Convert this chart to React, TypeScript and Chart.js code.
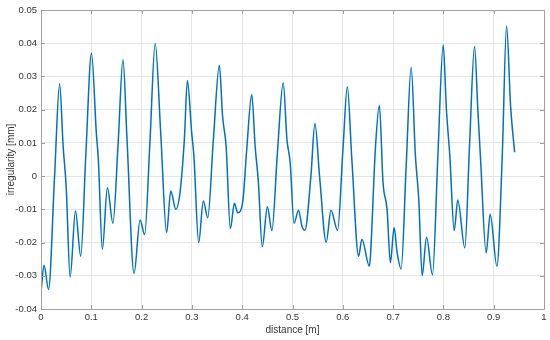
import React, { useEffect, useRef } from "react";
import { Chart, registerables } from "chart.js";

Chart.register(...registerables);

// distance [m] and irregularity [mm]
const distance = [
  0.0, 0.006, 0.015, 0.027, 0.037, 0.044, 0.05, 0.058, 0.0685, 0.079,
  0.089, 0.1004, 0.11, 0.114, 0.122, 0.132, 0.143, 0.1534, 0.163, 0.171,
  0.185, 0.197, 0.206, 0.2165, 0.227, 0.238, 0.2497, 0.258, 0.268, 0.2763,
  0.285, 0.291, 0.2996, 0.304, 0.3135, 0.3227, 0.3315, 0.3427, 0.3546, 0.361,
  0.368, 0.3765, 0.3845, 0.391, 0.401, 0.409, 0.419, 0.4257, 0.432, 0.44,
  0.45, 0.459, 0.47, 0.4815, 0.489, 0.4954, 0.503, 0.512, 0.5187, 0.5246,
  0.5366, 0.5446, 0.5538, 0.567, 0.5765, 0.5896, 0.6003, 0.609, 0.618, 0.6315,
  0.638, 0.6527, 0.655, 0.6647, 0.6727, 0.68, 0.688, 0.6946, 0.702, 0.708,
  0.716, 0.726, 0.7359, 0.7444, 0.751, 0.7578, 0.7665, 0.7783, 0.789, 0.7996,
  0.806, 0.8128, 0.8215, 0.8286, 0.8426, 0.8519, 0.8619, 0.8685, 0.8739, 0.885,
  0.893, 0.9064, 0.917, 0.9256, 0.9336, 0.9416,
];
const irregularity = [
  -0.0351, -0.0268, -0.0341, 0.0, 0.0278, 0.009, -0.003, -0.0304, -0.0105, -0.0241,
  0.006, 0.037, 0.013, 0.005, -0.022, -0.0035, -0.0142, 0.01, 0.035, 0.011,
  -0.0293, -0.0132, -0.0176, 0.01, 0.0399, 0.013, -0.017, -0.0045, -0.01, -0.005,
  0.011, 0.0288, 0.013, 0.006, -0.02, -0.0075, -0.0125, 0.011, 0.0334, 0.018,
  0.009, -0.0158, -0.0082, -0.011, -0.0078, 0.008, 0.0246, 0.009, -0.0015, -0.0213,
  -0.0092, -0.0164, 0.007, 0.0281, 0.011, 0.004, -0.0142, -0.0103, -0.015, -0.0163,
  0.0, 0.0158, 0.0, -0.0199, -0.0103, -0.0163, 0.008, 0.0269, 0.005, -0.0241,
  -0.019, -0.0271, -0.024, 0.008, 0.0213, -0.002, -0.01, -0.0261, -0.0155, -0.023,
  -0.0279, 0.003, 0.0328, 0.006, -0.007, -0.0299, -0.0184, -0.0297, 0.006, 0.0395,
  0.02, 0.006, -0.0164, -0.0072, -0.0216, 0.009, 0.039, 0.02, 0.005, -0.0231,
  -0.0115, -0.0271, 0.006, 0.0452, 0.021, 0.0072,
];

const xTickValues = [0, 0.1, 0.2, 0.3, 0.4, 0.5, 0.6, 0.7, 0.8, 0.9, 1];
const xTickLabels = ["0", "0.1", "0.2", "0.3", "0.4", "0.5", "0.6", "0.7", "0.8", "0.9", "1"];
const yTickValues = [-0.04, -0.03, -0.02, -0.01, 0, 0.01, 0.02, 0.03, 0.04, 0.05];
const yTickLabels = ["-0.04", "-0.03", "-0.02", "-0.01", "0", "0.01", "0.02", "0.03", "0.04", "0.05"];

const TEXT = "#333333";
const FONT = "'Liberation Sans', Arial, Helvetica, sans-serif";

const boxPlugin = {
  id: "matlabBox",
  afterDraw(chart: any) {
    const { ctx, chartArea } = chart;
    const { left, right, top, bottom } = chartArea;
    const xs = chart.scales.x;
    const ys = chart.scales.y;
    ctx.save();
    ctx.strokeStyle = "#a0a0a0";
    ctx.lineWidth = 1;
    ctx.beginPath();
    ctx.rect(Math.round(left) + 0.5, Math.round(top) + 0.5, Math.round(right - left), Math.round(bottom - top));
    ctx.stroke();
    const tl = 4;
    ctx.beginPath();
    xTickValues.forEach((v) => {
      const px = Math.round(xs.getPixelForValue(v)) + 0.5;
      ctx.moveTo(px, bottom);
      ctx.lineTo(px, bottom - tl);
      ctx.moveTo(px, top);
      ctx.lineTo(px, top + tl);
    });
    yTickValues.forEach((v) => {
      const py = Math.round(ys.getPixelForValue(v)) + 0.5;
      ctx.moveTo(left, py);
      ctx.lineTo(left + tl, py);
      ctx.moveTo(right, py);
      ctx.lineTo(right - tl, py);
    });
    ctx.stroke();
    ctx.restore();
  },
};

export default function App() {
  const ref = useRef<HTMLCanvasElement>(null);
  useEffect(() => {
    document.body.style.margin = "0";
    const canvas = ref.current;
    if (!canvas) return;
    const chart = new Chart(canvas, {
      type: "line",
      data: {
        datasets: [
          {
            data: distance.map((d, i) => ({ x: d, y: irregularity[i] })),
            borderColor: "#0072BD",
            borderWidth: 1.5,
            pointRadius: 0,
            fill: false,
            cubicInterpolationMode: "monotone",
          },
        ],
      },
      options: {
        animation: false,
        responsive: false,
        maintainAspectRatio: false,
        layout: { padding: { left: 0, right: 6, top: 10, bottom: 0 } },
        plugins: {
          legend: { display: false },
          tooltip: { enabled: false },
        },
        scales: {
          x: {
            type: "linear",
            min: 0,
            max: 1,
            afterBuildTicks: (scale: any) => {
              scale.ticks = xTickValues.map((v) => ({ value: v }));
            },
            afterFit: (scale: any) => {
              scale.height = 31;
            },
            grid: { color: "#e6e6e6", drawTicks: false, lineWidth: 1 },
            border: { display: false },
            ticks: {
              padding: 3,
              color: TEXT,
              font: { family: FONT, size: 9.5 },
              maxRotation: 0,
              autoSkip: false,
              callback: (_v: any, i: number) => xTickLabels[i],
            },
            title: {
              display: true,
              text: "distance [m]",
              color: TEXT,
              font: { family: FONT, size: 10 },
              padding: { top: 0, bottom: 4 },
            },
          },
          y: {
            type: "linear",
            min: -0.04,
            max: 0.05,
            afterBuildTicks: (scale: any) => {
              scale.ticks = yTickValues.map((v) => ({ value: v }));
            },
            afterFit: (scale: any) => {
              scale.width = 41;
            },
            grid: { color: "#e6e6e6", drawTicks: false, lineWidth: 1 },
            border: { display: false },
            ticks: {
              padding: 4,
              color: TEXT,
              font: { family: FONT, size: 9.5 },
              autoSkip: false,
              callback: (_v: any, i: number) => yTickLabels[i],
            },
            title: {
              display: true,
              text: "irregularity [mm]",
              color: TEXT,
              font: { family: FONT, size: 10 },
              padding: { top: 5, bottom: 0 },
            },
          },
        },
      },
      plugins: [boxPlugin],
    } as any);
    return () => chart.destroy();
  }, []);
  return (
    <div style={{ width: 550, height: 340, background: "#fff" }}>
      <canvas ref={ref} width={550} height={340} style={{ display: "block", width: 550, height: 340 }} />
    </div>
  );
}
